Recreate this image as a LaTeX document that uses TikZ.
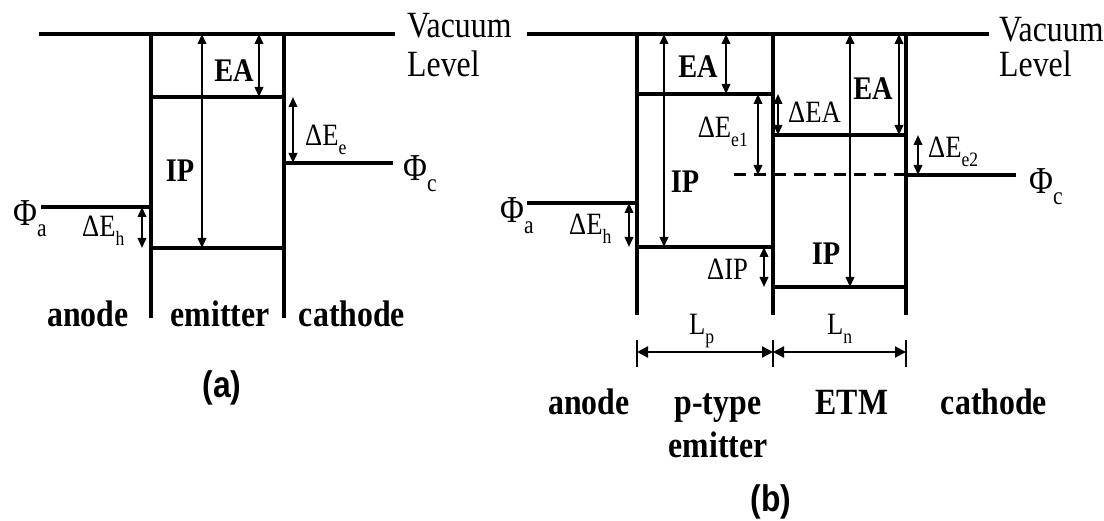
\documentclass[tikz,border=0pt]{standalone}
\usepackage{fontspec}
\usepackage{graphicx}
\setmainfont{Liberation Serif}[FakeStretch=0.86]
\newfontfamily\capfont{Liberation Sans}[FakeStretch=0.86]
\usetikzlibrary{arrows.meta}
\newcommand\lsub[1]{\raisebox{-0.28em}{\scalebox{0.66}{#1}}}
\tikzset{
  lvl/.style={line width=3.2pt},
  dashlvl/.style={line width=3pt, dash pattern=on 12pt off 8pt},
  arr/.style={line width=2pt, {Triangle[length=10pt,width=8.5pt]}-{Triangle[length=10pt,width=8.5pt]}},
  dimarr/.style={line width=2pt, {Triangle[length=11pt,width=11pt]}-{Triangle[length=11pt,width=11pt]}},
  tickbar/.style={line width=2.6pt},
  txt/.style={inner sep=0pt, font=\fontsize{37}{39}\selectfont},
  bigb/.style={inner sep=0pt, font=\fontsize{37}{39}\selectfont\bfseries},
  midb/.style={inner sep=0pt, font=\fontsize{33}{35}\selectfont\bfseries},
  dlab/.style={inner sep=0pt, font=\fontsize{31}{33}\selectfont},
  phi/.style={inner sep=0pt, font=\fontsize{38}{40}\selectfont},
  captxt/.style={inner sep=0pt, font=\capfont\fontsize{37}{39}\selectfont\bfseries},
}
\begin{document}
\begin{tikzpicture}[x=1pt,y=-1pt]
\useasboundingbox (0,0) rectangle (1104,521);

% ================= panel (a) =================
\coordinate (aVacL) at (39,34);   \coordinate (aVacR) at (395,34);
\coordinate (a1t) at (151,34);    \coordinate (a1b) at (151,318);
\coordinate (a2t) at (284,34);    \coordinate (a2b) at (284,318);
\coordinate (aLUl) at (151,97);   \coordinate (aLUr) at (284,97);
\coordinate (aHOl) at (151,248);  \coordinate (aHOr) at (284,248);
\coordinate (aPcl) at (284,163);  \coordinate (aPcr) at (393,163);
\coordinate (aPal) at (41,207);   \coordinate (aPar) at (151,207);
\draw[lvl] (aVacL) -- (aVacR);
\draw[lvl] (a1t) -- (a1b);
\draw[lvl] (a2t) -- (a2b);
\draw[lvl] (aLUl) -- (aLUr);
\draw[lvl] (aHOl) -- (aHOr);
\draw[lvl] (aPcl) -- (aPcr);
\draw[lvl] (aPal) -- (aPar);
% arrows
\coordinate (aIPt) at (202,34);  \coordinate (aIPb) at (202,248);
\coordinate (aEAt) at (259,34);  \coordinate (aEAb) at (259,97);
\coordinate (aDet) at (293,97);  \coordinate (aDeb) at (293,163);
\coordinate (aDht) at (142,207); \coordinate (aDhb) at (142,248);
\draw[arr] (aIPt) -- (aIPb);
\draw[arr] (aEAt) -- (aEAb);
\draw[arr] (aDet) -- (aDeb);
\draw[arr] (aDht) -- (aDhb);
% labels
\node[txt, anchor=base west] (aVac1) at (407,38) {Vacuum};
\node[txt, anchor=base west] (aVac2) at (407,77) {Level};
\node[midb, anchor=base] (aEA) at (234,82) {EA};
\node[midb, anchor=base] (aIP) at (180,182) {IP};
\node[dlab, anchor=base west] (aDe) at (305,146) {ΔE\lsub{e}};
\node[phi, anchor=base west] (aPc) at (403,181) {Φ\lsub{c}};
\node[phi, anchor=base west] (aPa) at (13,226) {Φ\lsub{a}};
\node[dlab, anchor=base west] (aDh) at (82,237) {ΔE\lsub{h}};
\node[bigb, anchor=base] (aAn) at (88,327) {anode};
\node[bigb, anchor=base] (aEm) at (220,327) {emitter};
\node[bigb, anchor=base] (aCa) at (352,327) {cathode};
\node[captxt] (aCap) at (222,388) {(a)};

% ================= panel (b) =================
\coordinate (bVacL) at (527,34);  \coordinate (bVacR) at (989,34);
\coordinate (b1t) at (637,34);    \coordinate (b1b) at (637,315);
\coordinate (b2t) at (773,34);    \coordinate (b2b) at (773,315);
\coordinate (b3t) at (906,34);    \coordinate (b3b) at (906,315);
\coordinate (bLU1l) at (637,94);  \coordinate (bLU1r) at (773,94);
\coordinate (bHO1l) at (637,247); \coordinate (bHO1r) at (773,247);
\coordinate (bLU2l) at (773,135); \coordinate (bLU2r) at (906,135);
\coordinate (bHO2l) at (773,287); \coordinate (bHO2r) at (906,287);
\coordinate (bPal) at (527,203);  \coordinate (bPar) at (637,203);
\coordinate (bDashl) at (734,175); \coordinate (bPcl) at (906,175); \coordinate (bPcr) at (1016,175);
\draw[lvl] (bVacL) -- (bVacR);
\draw[lvl] (b1t) -- (b1b);
\draw[lvl] (b2t) -- (b2b);
\draw[lvl] (b3t) -- (b3b);
\draw[lvl] (bLU1l) -- (bLU1r);
\draw[lvl] (bHO1l) -- (bHO1r);
\draw[lvl] (bLU2l) -- (bLU2r);
\draw[lvl] (bHO2l) -- (bHO2r);
\draw[lvl] (bPal) -- (bPar);
\draw[dashlvl] (bDashl) -- (bPcl);
\draw[lvl] (bPcl) -- (bPcr);
% arrows
\coordinate (bIP1t) at (664,34);  \coordinate (bIP1b) at (664,247);
\coordinate (bEA1t) at (726,34);  \coordinate (bEA1b) at (726,94);
\coordinate (bDe1t) at (758,94);  \coordinate (bDe1b) at (758,175);
\coordinate (bDEAt) at (778,94);  \coordinate (bDEAb) at (778,135);
\coordinate (bIP2t) at (850,34);  \coordinate (bIP2b) at (850,287);
\coordinate (bEA2t) at (899,34);  \coordinate (bEA2b) at (899,135);
\coordinate (bDe2t) at (918,135); \coordinate (bDe2b) at (918,175);
\coordinate (bDht) at (629,203);  \coordinate (bDhb) at (629,247);
\coordinate (bDIPt) at (764,247); \coordinate (bDIPb) at (764,287);
\draw[arr] (bIP1t) -- (bIP1b);
\draw[arr] (bEA1t) -- (bEA1b);
\draw[arr] (bDe1t) -- (bDe1b);
\draw[arr] (bDEAt) -- (bDEAb);
\draw[arr] (bIP2t) -- (bIP2b);
\draw[arr] (bEA2t) -- (bEA2b);
\draw[arr] (bDe2t) -- (bDe2b);
\draw[arr] (bDht) -- (bDhb);
\draw[arr] (bDIPt) -- (bDIPb);
% dimension line
\coordinate (bD1) at (637,352); \coordinate (bD2) at (773,352); \coordinate (bD3) at (906,352);
\coordinate (bT1t) at (637,340); \coordinate (bT1b) at (637,367);
\coordinate (bT2t) at (773,340); \coordinate (bT2b) at (773,367);
\coordinate (bT3t) at (906,340); \coordinate (bT3b) at (906,367);
\draw[tickbar] (bT1t) -- (bT1b);
\draw[tickbar] (bT2t) -- (bT2b);
\draw[tickbar] (bT3t) -- (bT3b);
\draw[dimarr] (bD1) -- (bD2);
\draw[dimarr] (bD2) -- (bD3);
% labels
\node[txt, anchor=base west] (bVac1) at (999,42) {Vacuum};
\node[txt, anchor=base west] (bVac2) at (999,77) {Level};
\node[midb, anchor=base] (bEA1) at (698,78) {EA};
\node[midb, anchor=base] (bIP1) at (685,193) {IP};
\node[dlab, anchor=base east] (bDe1) at (748,138) {ΔE\lsub{e1}};
\node[dlab, anchor=base west] (bDEA) at (788,123) {ΔEA};
\node[midb, anchor=base] (bEA2) at (873,100) {EA};
\node[dlab, anchor=base west] (bDe2) at (928,158) {ΔE\lsub{e2}};
\node[phi, anchor=base west] (bPc) at (1029,194) {Φ\lsub{c}};
\node[phi, anchor=base west] (bPa) at (500,223) {Φ\lsub{a}};
\node[dlab, anchor=base west] (bDh) at (569,235) {ΔE\lsub{h}};
\node[midb, anchor=base] (bIP2) at (826,265) {IP};
\node[dlab, anchor=base west] (bDIP) at (707,280) {ΔIP};
\node[dlab, anchor=base west] (bLp) at (689,335) {L\lsub{p}};
\node[dlab, anchor=base west] (bLn) at (827,335) {L\lsub{n}};
\node[bigb, anchor=base] (bAn) at (589,415) {anode};
\node[bigb, anchor=base] (bPt) at (718,415) {p-type};
\node[bigb, anchor=base] (bEm) at (718,457) {emitter};
\node[bigb, anchor=base] (bEt) at (852,415) {ETM};
\node[bigb, anchor=base] (bCa) at (994,415) {cathode};
\node[captxt] (bCap) at (771,502) {(b)};
\end{tikzpicture}
\end{document}
